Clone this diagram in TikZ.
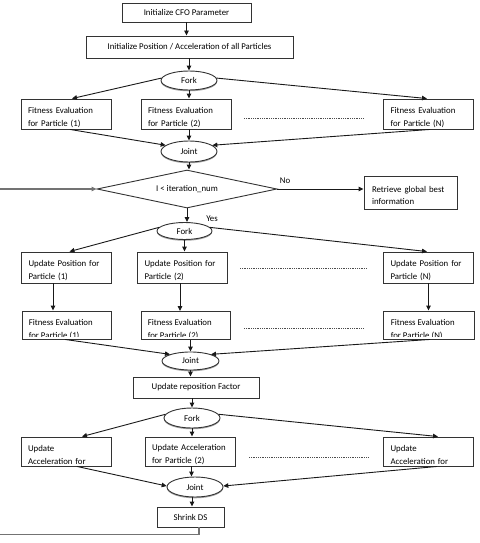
\documentclass[tikz,border=0pt]{standalone}
\usepackage{fontspec}
\setmainfont{Carlito}
\usetikzlibrary{arrows.meta,shapes.geometric,shadows,calc}
\newcommand\tupstrut{\rule{0pt}{12.5pt}}
\newcommand\rupstrut{\rule{0pt}{9.5pt}}
\tikzset{
  base/.style={font=\fontsize{8.8}{13}\selectfont},
  cbox/.style={base, draw=black!80, line width=0.9pt, fill=white, inner sep=0pt, align=center},
  tbox/.style={base, draw=black!80, line width=0.9pt, fill=white, inner ysep=0pt, inner xsep=7pt, text width=76pt, align=left, execute at begin node=\tupstrut},
  ebox/.style={draw=black!80, line width=0.9pt, fill=white, inner sep=0pt},
  ctext/.style={base, inner sep=0pt, align=left, anchor=north west},
  ell/.style={base, ellipse, draw=black!80, line width=0.9pt, fill=white, inner sep=0pt,
    drop shadow={shadow xshift=0pt, shadow yshift=-1.3pt, fill=black!45, opacity=0.8}},
  arr/.style={draw=black!90, line width=0.9pt, -{Triangle[length=5pt,width=4.5pt]}},
  loopline/.style={draw=black!55, line width=1.4pt},
  dotline/.style={draw=black!70, line width=0.8pt, dash pattern=on 0.8pt off 1pt},
  lbl/.style={base, inner sep=0pt}
}
\begin{document}
\begin{tikzpicture}[x=1pt,y=-1pt]
\useasboundingbox (0,0) rectangle (479,543);
% top
\node[cbox, minimum width=129pt, minimum height=19pt] (init) at (186.5,12.5) {Initialize CFO Parameter};
\node[cbox, minimum width=207pt, minimum height=22pt] (initpos) at (189.5,47) {Initialize Position / Acceleration of all Particles};
\node[ell, minimum width=56pt, minimum height=19pt] (fork1) at (189,80.5) {Fork};
% row 1
\node[tbox, minimum height=30pt] (r1a) at (66,114) {Fitness Evaluation\\for Particle (1)};
\node[tbox, minimum height=30pt] (r1b) at (186,114) {Fitness Evaluation\\for Particle (2)};
\node[tbox, minimum height=30pt] (r1n) at (428.5,114) {Fitness Evaluation\\for Particle (N)};
\draw[dotline] (244,118) -- (364,118);
\node[ell, minimum width=56pt, minimum height=21pt] (joint1) at (189,151.5) {Joint};
% decision
\node[base, diamond, aspect=4.7, draw=black!80, line width=0.9pt, fill=white, inner sep=0pt, minimum width=180pt, minimum height=38pt] (dec) at (187,189) {I < iteration\_num};
\node[tbox, text width=77pt, inner xsep=8pt, minimum height=33pt, execute at begin node=\rupstrut, font=\fontsize{8.8}{12}\selectfont] (ret) at (410.5,192.5) {Retrieve global best\\information};
\node[lbl] (no) at (285,181) {No};
\node[lbl] (yes) at (212,219) {Yes};
\node[ell, minimum width=55pt, minimum height=17pt] (fork2) at (184.5,231) {Fork};
% row 2
\node[tbox, minimum height=31pt] (r2a) at (66.5,267.5) {Update Position for\\Particle (1)};
\node[tbox, minimum height=31pt] (r2b) at (182.5,267.5) {Update Position for\\Particle (2)};
\node[tbox, minimum height=31pt] (r2n) at (428.5,267.5) {Update Position for\\Particle (N)};
\draw[dotline] (240,268) -- (367,268);
% row 3 (text clipped)
\node[ebox, minimum width=89pt, minimum height=28pt] (r3a) at (66.5,325) {};
\node[ebox, minimum width=89pt, minimum height=28pt] (r3b) at (185.5,325.5) {};
\node[ebox, minimum width=91pt, minimum height=28pt] (r3n) at (428.5,325) {};
\begin{scope}
\clip ([yshift=3pt]r3a.south west) rectangle (r3a.north east);
\node[ctext] (r3at) at ([xshift=7pt,yshift=-9pt]r3a.north west) {Fitness Evaluation\\for Particle (1)};
\end{scope}
\begin{scope}
\clip ([yshift=3pt]r3b.south west) rectangle (r3b.north east);
\node[ctext] (r3bt) at ([xshift=7pt,yshift=-8.5pt]r3b.north west) {Fitness Evaluation\\for Particle (2)};
\end{scope}
\begin{scope}
\clip ([yshift=3pt]r3n.south west) rectangle (r3n.north east);
\node[ctext] (r3nt) at ([xshift=8pt,yshift=-9pt]r3n.north west) {Fitness Evaluation\\for Particle (N)};
\end{scope}
\draw[dotline] (244,328) -- (364,328);
\node[ell, minimum width=57pt, minimum height=18pt] (joint2) at (190.5,361) {Joint};
\node[cbox, minimum width=126pt, minimum height=21pt] (fact) at (196,387.5) {Update reposition Factor};
\node[ell, minimum width=56pt, minimum height=20pt] (fork3) at (192,418) {Fork};
% row 4
\node[tbox, minimum height=29pt] (r4a) at (66,451.5) {Update\\Acceleration for};
\node[tbox, minimum height=29pt] (r4b) at (190,451.5) {Update Acceleration\\for Particle (2)};
\node[tbox, minimum height=29pt] (r4n) at (428.5,451.5) {Update\\Acceleration for};
\draw[dotline] (249,457) -- (368,457);
\node[ell, minimum width=56pt, minimum height=20pt] (joint3) at (195,487) {Joint};
\node[cbox, minimum width=67pt, minimum height=20pt] (shrink) at (190.5,517) {Shrink DS};
\coordinate (loopL) at (0,534);
\coordinate (loopIn) at (0,189);
% connectors
\draw[arr] (init.south) -- (init.south |- initpos.north);
\draw[arr] (initpos.south -| fork1.north) -- (fork1.north);
\draw[arr] (fork1.175) -- ([xshift=6pt]r1a.north);
\draw[arr] (fork1.south) -- (fork1.south |- r1b.north);
\draw[arr] (fork1.5) -- ([xshift=-1.5pt]r1n.north);
\draw[arr] ([xshift=4pt]r1a.south) -- (joint1.165);
\draw[arr] (r1b.south -| joint1.north) -- (joint1.north);
\draw[arr] ([xshift=1.5pt]r1n.south) -- (joint1.15);
\draw[arr] (joint1.south) -- (joint1.south |- dec.north);
\draw[arr] (dec.east) -- (dec.east -| ret.west);
\draw[arr] (dec.south) -- (dec.south |- fork2.north);
\draw[arr] (fork2.172) -- ([xshift=3pt]r2a.north);
\draw[arr] (fork2.south) -- (fork2.south |- r2b.north);
\draw[arr] (fork2.8) -- ([xshift=-1.5pt]r2n.north);
\coordinate (c2a) at ([xshift=-13.5pt]r2a.south);
\coordinate (c2b) at ([xshift=-2.5pt]r2b.south);
\draw[arr] (c2a) -- (c2a |- r3a.north);
\draw[arr] (c2b) -- (c2b |- r3b.north);
\draw[arr] (r2n.south) -- (r2n.south |- r3n.north);
\draw[arr] ([xshift=-1.5pt]r3a.south) -- (joint2.162);
\draw[arr] (r3b.south -| joint2.north) -- (joint2.north);
\draw[arr] ([xshift=1.5pt]r3n.south) -- (joint2.18);
\draw[arr] (joint2.south) -- (joint2.south |- fact.north);
\draw[arr] (fork3.north |- fact.south) -- (fork3.north);
\draw[arr] (fork3.172) -- ([xshift=16pt]r4a.north);
\draw[arr] (fork3.south) -- (fork3.south |- r4b.north);
\draw[arr] (fork3.8) -- ([xshift=9.5pt]r4n.north);
\draw[arr] ([xshift=11pt]r4a.south) -- (joint3.178);
\draw[arr] ([xshift=1.5pt]r4b.south) -- ([xshift=1.5pt]r4b.south |- joint3.north);
\draw[arr] ([xshift=8.5pt]r4n.south) -- (joint3.2);
\draw[arr] ([xshift=1.5pt]shrink.north |- joint3.south) -- ([xshift=1.5pt]shrink.north);
\draw[loopline] ([xshift=8.5pt]shrink.south) -- ++(0,7) -| (loopL);
\draw[loopline, -{Triangle[length=5pt,width=4.5pt]}, draw=black!55] (loopIn) -- (dec.west);
\end{tikzpicture}
\end{document}
